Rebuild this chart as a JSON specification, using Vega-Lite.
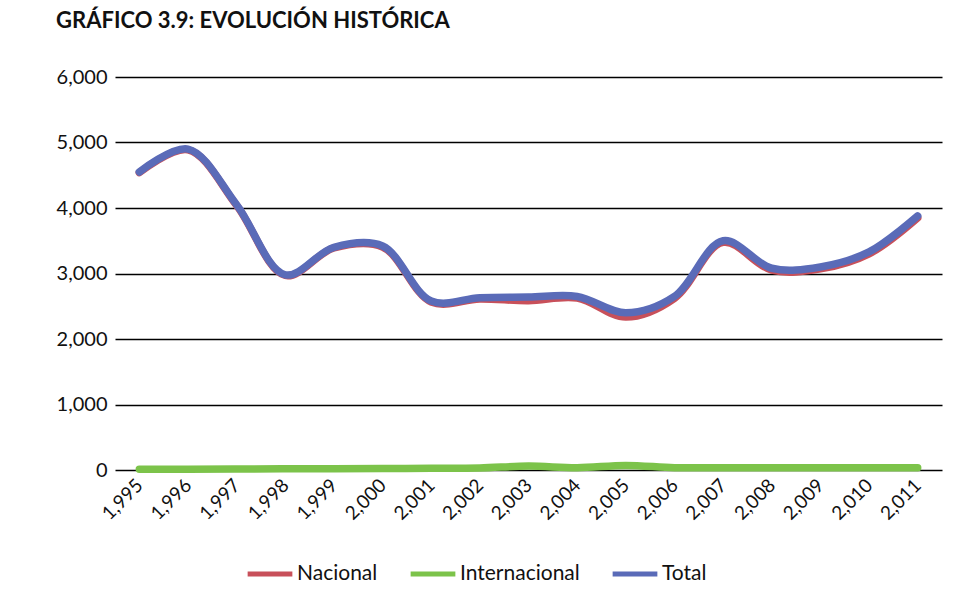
{
  "$schema": "https://vega.github.io/schema/vega-lite/v6.json",
  "autosize": {"type": "none"},
  "width": 827,
  "height": 393,
  "padding": {"left": 115, "top": 77, "right": 26, "bottom": 144},
  "background": "white",
  "title": {
    "text": "GRÁFICO 3.9: EVOLUCIÓN HISTÓRICA",
    "anchor": "start",
    "offset": 34,
    "fontSize": 22,
    "font": "Lato",
    "fontWeight": "bold",
    "color": "#111111"
  },
  "config": {
    "view": {"stroke": null},
    "font": "Lato"
  },
  "data": {
    "values": [
      {"year": 1995, "serie": "Nacional", "value": 4540},
      {"year": 1996, "serie": "Nacional", "value": 4890},
      {"year": 1997, "serie": "Nacional", "value": 4040},
      {"year": 1998, "serie": "Nacional", "value": 2970},
      {"year": 1999, "serie": "Nacional", "value": 3390},
      {"year": 2000, "serie": "Nacional", "value": 3405},
      {"year": 2001, "serie": "Nacional", "value": 2565},
      {"year": 2002, "serie": "Nacional", "value": 2610},
      {"year": 2003, "serie": "Nacional", "value": 2585},
      {"year": 2004, "serie": "Nacional", "value": 2625},
      {"year": 2005, "serie": "Nacional", "value": 2335},
      {"year": 2006, "serie": "Nacional", "value": 2620},
      {"year": 2007, "serie": "Nacional", "value": 3475},
      {"year": 2008, "serie": "Nacional", "value": 3050},
      {"year": 2009, "serie": "Nacional", "value": 3070},
      {"year": 2010, "serie": "Nacional", "value": 3300},
      {"year": 2011, "serie": "Nacional", "value": 3850},
      {"year": 1995, "serie": "Internacional", "value": 10},
      {"year": 1996, "serie": "Internacional", "value": 12},
      {"year": 1997, "serie": "Internacional", "value": 15},
      {"year": 1998, "serie": "Internacional", "value": 18},
      {"year": 1999, "serie": "Internacional", "value": 20},
      {"year": 2000, "serie": "Internacional", "value": 22},
      {"year": 2001, "serie": "Internacional", "value": 25},
      {"year": 2002, "serie": "Internacional", "value": 30},
      {"year": 2003, "serie": "Internacional", "value": 60},
      {"year": 2004, "serie": "Internacional", "value": 35},
      {"year": 2005, "serie": "Internacional", "value": 70},
      {"year": 2006, "serie": "Internacional", "value": 35},
      {"year": 2007, "serie": "Internacional", "value": 35},
      {"year": 2008, "serie": "Internacional", "value": 35},
      {"year": 2009, "serie": "Internacional", "value": 35},
      {"year": 2010, "serie": "Internacional", "value": 35},
      {"year": 2011, "serie": "Internacional", "value": 35},
      {"year": 1995, "serie": "Total", "value": 4550},
      {"year": 1996, "serie": "Total", "value": 4900},
      {"year": 1997, "serie": "Total", "value": 4050},
      {"year": 1998, "serie": "Total", "value": 2980},
      {"year": 1999, "serie": "Total", "value": 3400},
      {"year": 2000, "serie": "Total", "value": 3420},
      {"year": 2001, "serie": "Total", "value": 2580},
      {"year": 2002, "serie": "Total", "value": 2630},
      {"year": 2003, "serie": "Total", "value": 2640},
      {"year": 2004, "serie": "Total", "value": 2650},
      {"year": 2005, "serie": "Total", "value": 2400},
      {"year": 2006, "serie": "Total", "value": 2650},
      {"year": 2007, "serie": "Total", "value": 3500},
      {"year": 2008, "serie": "Total", "value": 3080},
      {"year": 2009, "serie": "Total", "value": 3100},
      {"year": 2010, "serie": "Total", "value": 3330},
      {"year": 2011, "serie": "Total", "value": 3880}
    ]
  },
  "mark": {"type": "line", "interpolate": "catmull-rom", "strokeWidth": 7.5, "strokeCap": "round"},
  "encoding": {
    "x": {
      "field": "year",
      "type": "ordinal",
      "scale": {"type": "point", "padding": 0.5},
      "axis": {
        "title": null,
        "domain": false,
        "ticks": false,
        "grid": false,
        "labelAngle": -45,
        "labelAlign": "right",
        "labelBaseline": "middle",
        "labelPadding": 12,
        "labelFontSize": 19,
        "labelColor": "#111111",
        "labelExpr": "format(datum.value, ',d')"
      }
    },
    "y": {
      "field": "value",
      "type": "quantitative",
      "scale": {"domain": [0, 6000], "nice": false},
      "axis": {
        "title": null,
        "domain": false,
        "ticks": false,
        "values": [0, 1000, 2000, 3000, 4000, 5000, 6000],
        "format": ",d",
        "labelFontSize": 20,
        "labelPadding": 8,
        "labelColor": "#111111",
        "gridColor": "#000000",
        "gridWidth": 1.5,
        "gridOpacity": 1
      }
    },
    "color": {
      "field": "serie",
      "type": "nominal",
      "sort": ["Nacional", "Internacional", "Total"],
      "scale": {"domain": ["Nacional", "Internacional", "Total"], "range": ["#C8505A", "#7CC34A", "#5A6BB8"]},
      "legend": {
        "title": null,
        "orient": "none",
        "direction": "horizontal",
        "legendX": 130,
        "legendY": 472,
        "symbolType": "stroke",
        "symbolSize": 2000,
        "symbolStrokeWidth": 5,
        "labelFontSize": 21,
        "labelColor": "#111111",
        "columnPadding": 22,
        "labelOffset": 2
      }
    },
    "order": {"field": "serie", "sort": "ascending"}
  }
}
